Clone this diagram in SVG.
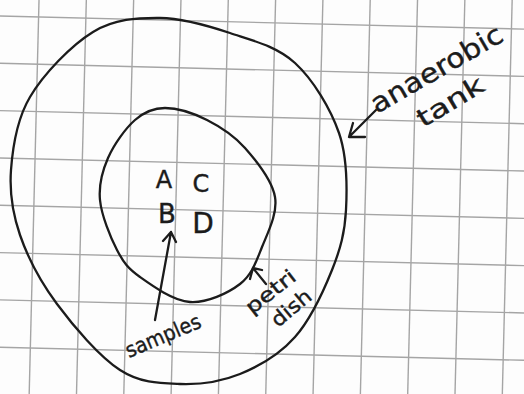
<svg xmlns="http://www.w3.org/2000/svg" width="524" height="394" viewBox="0 0 524 394">
<style>
.grid line{stroke:#a5a5a5;stroke-width:1.4}
.ink{fill:none;stroke:#1b1b1b;stroke-width:2.3;stroke-linecap:round;stroke-linejoin:round}
.hw{font-family:"DejaVu Sans","Noto Sans",sans-serif;fill:#1b1b1b;stroke:#1b1b1b;stroke-width:0.4}
.big{font-family:"DejaVu Sans",sans-serif;fill:#1b1b1b;stroke:#1b1b1b;stroke-width:0.4}
</style>
<rect width="524" height="394" fill="#fdfdfd"/>
<g class="grid" transform="rotate(1.43)">
<line x1="-20" y1="16" x2="560" y2="16"/>
<line x1="-20" y1="63.3" x2="560" y2="63.3"/>
<line x1="-20" y1="110.6" x2="560" y2="110.6"/>
<line x1="-20" y1="157.9" x2="560" y2="157.9"/>
<line x1="-20" y1="205.2" x2="560" y2="205.2"/>
<line x1="-20" y1="252.5" x2="560" y2="252.5"/>
<line x1="-20" y1="299.8" x2="560" y2="299.8"/>
<line x1="-20" y1="347.1" x2="560" y2="347.1"/>
<line x1="39" y1="-30" x2="39" y2="420"/>
<line x1="86.3" y1="-30" x2="86.3" y2="420"/>
<line x1="133.6" y1="-30" x2="133.6" y2="420"/>
<line x1="180.9" y1="-30" x2="180.9" y2="420"/>
<line x1="228.2" y1="-30" x2="228.2" y2="420"/>
<line x1="275.5" y1="-30" x2="275.5" y2="420"/>
<line x1="322.8" y1="-30" x2="322.8" y2="420"/>
<line x1="370.1" y1="-30" x2="370.1" y2="420"/>
<line x1="417.4" y1="-30" x2="417.4" y2="420"/>
<line x1="464.7" y1="-30" x2="464.7" y2="420"/>
<line x1="512" y1="-30" x2="512" y2="420"/>
<line x1="559.3" y1="-30" x2="559.3" y2="420"/>
</g>
<g id="anaerobic-tank">
<path class="ink" d="M160,18 C182.8,18.2 207.5,25.5 230,33 C252.5,40.5 276.8,46.3 295,63 C313.2,79.7 330.5,108.5 339,133 C347.5,157.5 347.2,187.2 346,210 C344.8,232.8 340.5,248.8 332,270 C323.5,291.2 310.3,319.7 295,337 C279.7,354.3 259.2,366.2 240,374 C220.8,381.8 200,384.7 180,384 C160,383.3 140.5,383.3 120,370 C99.5,356.7 73.7,326.5 57,304 C40.3,281.5 27.7,257.3 20,235 C12.3,212.7 9.3,193 11,170 C12.7,147 16.3,120 30,97 C43.7,74 71.3,45.2 93,32 C114.7,18.8 137.2,17.8 160,18 Z"/>
<text class="hw" font-size="27" textLength="148" lengthAdjust="spacingAndGlyphs" transform="translate(377,114) rotate(-30)">anaerobic</text>
<text class="hw" font-size="25" textLength="74" lengthAdjust="spacingAndGlyphs" transform="translate(423,128) rotate(-31)">tank</text>
</g>
<g id="petri-dish">
<path class="ink" d="M165,108 C177,108 193.7,113.3 207,120 C220.3,126.7 233.7,135.2 245,148 C256.3,160.8 272.2,180.5 275,197 C277.8,213.5 267.8,232.5 262,247 C256.2,261.5 252,274.8 240,284 C228,293.2 206.7,303.2 190,302 C173.3,300.8 152.2,285.7 140,277 C127.8,268.3 123.7,262.8 117,250 C110.3,237.2 101.5,215.3 100,200 C98.5,184.7 102.2,171.3 108,158 C113.8,144.7 125.5,128.3 135,120 C144.5,111.7 153,108 165,108 Z"/>
<text class="hw" font-size="20" textLength="58" lengthAdjust="spacingAndGlyphs" transform="translate(252,315) rotate(-38)">petri</text>
<text class="hw" font-size="20" textLength="46" lengthAdjust="spacingAndGlyphs" transform="translate(278,328) rotate(-40)">dish</text>
</g>
<g id="samples">
<text class="big" font-size="24" x="164" y="188" text-anchor="middle">A</text>
<text class="big" font-size="24" x="201" y="192" text-anchor="middle">C</text>
<text class="big" font-size="26" x="167" y="223" text-anchor="middle">B</text>
<text class="big" font-size="28" x="203" y="233" text-anchor="middle">D</text>
<text class="hw" font-size="21" textLength="80" lengthAdjust="spacingAndGlyphs" transform="translate(129,358) rotate(-23)">samples</text>
</g>
<g id="connectors" class="ink">
<path d="M376,110 L349,137 M353,123 L349,137 L365,137"/>
<path d="M155,320 L171,232 M163,241 L171,232 L176,242"/>
<path d="M266,284 L253,268 M250,279 L253,268 L262,270"/>
</g>
</svg>
